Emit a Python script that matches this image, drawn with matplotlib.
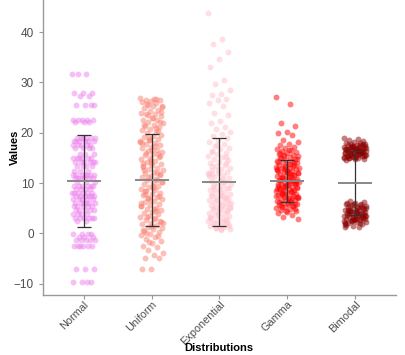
import numpy as np
import matplotlib
matplotlib.use("Agg")
import matplotlib.pyplot as plt

plt.rcParams['font.family'] = ['Liberation Sans', 'DejaVu Sans']

# categories and colours
categories = ['Normal', 'Uniform', 'Exponential', 'Gamma', 'Bimodal']
colors = ['#EE82EE', '#FA8072', '#FFC0CB', '#FF0000', '#8B0000']

# Normal values come in discrete rows: level -> number of points
normal_levels = [31.7, 27.9, 27.3, 25.6, 22.6, 22.2, 19.0, 18.3, 17.6, 16.9, 15.8,
                 14.9, 14.2, 13.4, 12.4, 11.5, 11.0, 10.3, 9.4, 8.8, 8.0, 7.4, 6.8,
                 6.0, 5.4, 4.6, 3.9, 3.0, 2.4, -0.2, -0.7, -1.4, -2.6, -7.0, -9.7]
normal_counts = [3, 3, 2, 4, 5, 3, 6, 6, 5, 4, 3,
                 6, 6, 4, 3, 7, 6, 3, 6, 4, 6, 6, 5,
                 6, 5, 5, 4, 6, 2, 4, 3, 5, 6, 3, 4]

uniform_vals = [26.9, 26.8, 26.6, 26.5, 26.4, 26.1, 25.9, 25.6, 25.4, 25.3, 24.9, 24.6,
                24.4, 24.0, 23.8, 23.7, 23.3, 23.0, 22.6, 22.5, 22.1, 21.9, 21.6, 21.3,
                21.1, 20.8, 20.5, 20.1, 19.9, 19.6, 19.4, 19.2, 18.8, 18.5, 18.3, 18.0,
                17.7, 17.5, 17.1, 16.9, 16.6, 16.3, 16.1, 15.8, 15.5, 15.2, 15.0, 14.7,
                14.4, 14.2, 13.8, 13.6, 13.3, 13.0, 12.8, 12.5, 12.2, 11.9, 11.7, 11.4,
                11.1, 10.9, 10.6, 10.3, 10.0, 9.8, 9.5, 9.2, 8.9, 8.7, 8.4, 8.1, 7.8,
                7.6, 7.3, 7.0, 6.8, 6.5, 6.2, 5.9, 5.7, 5.4, 5.1, 4.9, 4.6, 4.3, 4.0,
                3.8, 3.5, 3.2, 2.9, 2.7, 2.4, 2.1, 1.8, 1.6, 1.3, 1.0, 0.8, 0.5, 0.2,
                -0.1, -0.4, -0.8, -1.2, -1.6, -2.0, -2.5, -2.8, -3.4, -3.9, -4.4, -5.0,
                -5.0, -7.0, -7.0,
                26.7, 25.8, 24.2, 22.9, 21.5, 20.3, 19.0, 18.1, 17.3, 16.0, 15.3, 14.5,
                13.2, 12.0, 11.2, 10.2, 9.4, 8.5, 7.5, 6.6, 5.5, 4.4, 3.3, 2.3, 1.5,
                0.6, -0.6, -1.8, 2.0, 4.8, 7.9, 11.5, 14.0, 17.9, 20.9, 23.6, 25.1,
                9.0, 12.6, 15.7, 18.6, 6.1, 3.0, 0.0, 22.2, 16.5, 13.9, 10.7, 7.1]

exponential_vals = [43.8, 38.6, 37.6, 36.1, 34.7, 33.0, 30.4, 29.7, 28.6, 27.7, 27.6,
                    26.8, 26.5, 26.0, 25.4, 24.0, 23.6, 22.3, 22.0, 21.2, 20.7, 20.2,
                    19.8, 19.3, 18.9, 18.5, 18.1, 17.8, 17.4, 17.0, 16.7, 16.4, 16.0,
                    15.7, 15.4, 15.1, 14.8, 14.5, 14.2, 13.9, 13.6, 13.3, 13.0, 12.8,
                    12.5, 12.2, 12.0, 11.7, 11.5, 11.2, 11.0, 10.7, 10.5, 10.2, 10.0,
                    9.8, 9.5, 9.3, 9.0, 8.8, 8.6, 8.3, 8.1, 7.9, 7.6, 7.4, 7.2, 7.0,
                    6.7, 6.5, 6.3, 6.1, 5.9, 5.7, 5.5, 5.3, 5.1, 4.9, 4.7, 4.5, 4.3,
                    4.1, 3.9, 3.7, 3.5, 3.3, 3.1, 2.9, 2.7, 2.5, 2.3, 2.1, 1.9, 1.7,
                    1.5, 1.3, 1.1, 0.9, 0.7,
                    16.2, 14.0, 12.6, 11.4, 10.8, 9.7, 9.1, 8.4, 7.7, 7.1, 6.6, 6.0,
                    5.6, 5.0, 4.4, 3.8, 3.2, 2.6, 2.0, 1.4, 0.8, 13.4, 15.2, 17.6,
                    12.0, 10.3, 8.9, 6.9, 4.8, 3.0, 1.6, 1.0, 5.2, 7.5, 11.8, 2.4]

gamma_vals = [27.2, 25.8, 22.0, 21.4, 20.1, 19.9, 19.5, 18.5, 18.2, 17.8, 17.5,
              17.2, 17.0, 16.8, 16.6, 16.4, 16.2, 16.0, 15.8, 15.6, 15.5, 15.3, 15.1,
              14.9, 14.8, 14.6, 14.4, 14.3, 14.1, 13.9, 13.8, 13.6, 13.5, 13.3, 13.2,
              13.0, 12.9, 12.7, 12.6, 12.4, 12.3, 12.1, 12.0, 11.9, 11.7, 11.6, 11.4,
              11.3, 11.2, 11.0, 10.9, 10.7, 10.6, 10.5, 10.3, 10.2, 10.0, 9.9, 9.8,
              9.6, 9.5, 9.3, 9.2, 9.1, 8.9, 8.8, 8.6, 8.5, 8.4, 8.2, 8.1, 7.9, 7.8,
              7.6, 7.5, 7.3, 7.2, 7.0, 6.9, 6.7, 6.6, 6.4, 6.3, 6.1, 5.9, 5.8, 5.6,
              5.4, 5.2, 5.0, 4.8, 4.6, 4.4, 4.2, 4.0, 3.6, 3.2, 2.9,
              16.5, 15.0, 14.0, 13.1, 12.5, 11.8, 11.1, 10.4, 9.7, 9.0, 8.3, 7.7,
              7.1, 6.5, 5.7, 4.9, 4.5, 12.8, 10.8, 8.7, 14.7, 6.0, 15.9, 11.5, 9.4,
              7.4, 13.7, 5.3, 10.1, 12.2,
              14.2, 13.4, 12.7, 11.9, 11.3, 10.6, 10.0, 9.5, 8.9, 8.4, 7.8, 7.3,
              6.8, 6.2, 5.5, 15.4, 13.0, 10.4, 8.1, 5.9, 12.4, 9.8, 7.0, 11.0, 9.2]

bimodal_vals = [18.9, 18.8, 18.5, 18.4, 18.2, 18.0, 17.9, 17.8, 17.7, 17.6, 17.5, 17.4,
                17.3, 17.2, 17.1, 17.0, 16.9, 16.8, 16.7, 16.6, 16.5, 16.4, 16.3, 16.2,
                16.1, 16.0, 15.9, 15.8, 15.7, 15.6, 15.5, 15.4, 15.3, 15.2, 15.1, 15.0,
                14.9, 14.8, 14.7, 14.6, 17.6, 17.3, 17.0, 16.8, 16.5, 16.3, 16.1, 15.9,
                15.7, 15.5, 15.3, 15.1, 16.6, 16.0, 17.2, 15.6, 16.4, 14.9, 17.8, 15.2,
                16.7, 16.2, 15.8, 17.4, 16.9, 15.4, 16.1, 17.1, 15.0, 16.5,
                6.5, 6.3, 6.1, 5.9, 5.8, 5.6, 5.5, 5.3, 5.2, 5.0, 4.9, 4.7, 4.6, 4.4,
                4.3, 4.1, 4.0, 3.8, 3.7, 3.5, 3.4, 3.2, 3.1, 2.9, 2.8, 2.6, 2.5, 2.3,
                2.2, 2.0, 1.8, 1.5, 1.3, 1.2, 5.4, 4.8, 4.2, 3.6, 3.0, 2.4, 5.1, 4.5,
                3.9, 3.3, 2.7, 2.1, 5.7, 4.4, 3.5, 2.9, 6.0, 4.0, 3.1, 2.5, 5.0, 4.6,
                3.8, 3.2, 1.6, 2.0, 2.6, 3.4, 4.1, 4.7, 5.3, 5.9, 1.9, 3.7, 4.3, 2.8]

# mean and standard deviation
means = [10.35, 10.55, 10.2, 10.4, 10.0]
sds = [9.15, 9.15, 8.8, 4.2, 6.45]

groups = [np.repeat(normal_levels, normal_counts), uniform_vals, exponential_vals,
          gamma_vals, bimodal_vals]

fig = plt.figure(figsize=(4.06, 3.55), dpi=100)
ax = fig.add_axes([0.106, 0.169, 0.869, 0.831])

for i, (vals, col) in enumerate(zip(groups, colors)):
    vals = np.asarray(vals)
    # deterministic jitter (golden ratio sequence)
    offs = ((np.arange(len(vals)) * 0.6180339887) % 1 - 0.5) * 0.34
    ax.scatter(i + 1 + offs, vals, s=18, color=col, alpha=0.5, linewidths=0, zorder=2)

x = np.arange(1, len(categories) + 1)
ax.errorbar(x, means, yerr=sds, fmt='none', ecolor='#333333', elinewidth=0.9,
            capsize=5, capthick=0.9, zorder=3)
ax.hlines(means, x - 0.25, x + 0.25, color='#888888', lw=1.4, zorder=4)

ax.set_xlim(0.4, 5.6)
ax.set_ylim(-12.27, 46.4)
ax.set_yticks([-10, 0, 10, 20, 30, 40])
ax.set_xticks(x)
ax.set_xticklabels(categories, rotation=45, ha='right', va='top', rotation_mode='anchor')

for s in ['top', 'right']:
    ax.spines[s].set_visible(False)
for s in ['left', 'bottom']:
    ax.spines[s].set_color('#999999')
    ax.spines[s].set_linewidth(1.0)
ax.tick_params(colors='#999999', labelcolor='#4D4D4D', length=3, width=0.8)
ax.tick_params(axis='y', labelsize=8.5)
ax.tick_params(axis='x', labelsize=7.8, pad=0)

fig.text(0.037, 0.585, 'Values', rotation=90, ha='center', va='center',
         fontsize=8, fontweight='bold')
fig.text(0.54, 0.02, 'Distributions', ha='center', va='center',
         fontsize=8, fontweight='bold')

fig.savefig('out.png', dpi=100)
